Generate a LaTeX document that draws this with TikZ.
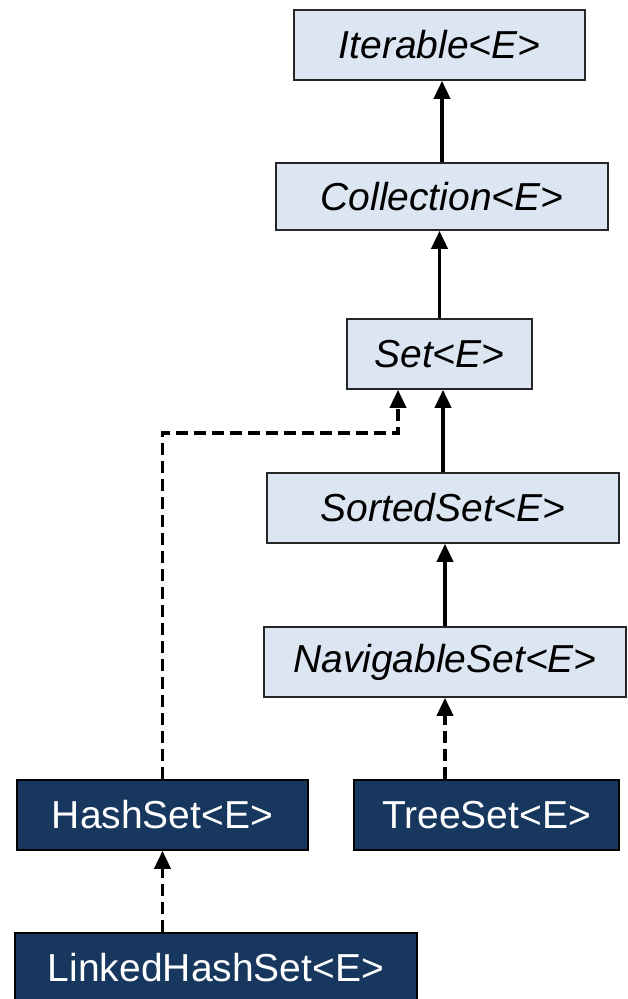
\documentclass[tikz,border=0pt]{standalone}
\usepackage{fontspec}
\setmainfont{Liberation Sans}
\usetikzlibrary{arrows.meta}
\definecolor{ifill}{HTML}{DCE6F2}
\definecolor{cfill}{HTML}{17375E}
\begin{document}
\begin{tikzpicture}[x=1pt,y=-1pt,
  box/.style={draw=black!85,line width=1.6pt,minimum height=70pt,inner sep=0pt,font=\fontsize{39}{42}\selectfont},
  iface/.style={box,fill=ifill,text=black,font=\fontsize{39}{42}\selectfont\itshape},
  cls/.style={box,fill=cfill,text=white,draw=black},
  ext/.style={line width=3.8pt,-{Triangle[length=18pt,width=16pt]}},
  impl/.style={ext,dash pattern=on 12pt off 6pt}]
\useasboundingbox (0,0) rectangle (628,999);
\node[iface,minimum width=291pt] (iter) at (439.5,45) {Iterable<E>};
\node[iface,minimum width=332pt,minimum height=67pt] (coll) at (442,196.5) {Collection<E>};
\node[iface,minimum width=185pt] (set) at (439.5,354) {Set<E>};
\node[iface,minimum width=352pt] (sorted) at (443,508) {SortedSet<E>};
\node[iface,minimum width=362pt] (nav) at (445,662) {NavigableSet<E>};
\node[cls,minimum width=291pt] (hash) at (162.5,815) {HashSet<E>};
\node[cls,minimum width=265pt] (tree) at (486.5,815) {TreeSet<E>};
\node[cls,minimum width=402pt] (linked) at (216,968) {LinkedHashSet<E>};
\coordinate (elbow) at (398,433);
\draw[ext] (coll.north) -- (coll.north |- iter.south);
\draw[ext] (set.north) -- (set.north |- coll.south);
\draw[ext] (sorted.north) -- (sorted.north |- set.south);
\draw[ext] (nav.north) -- (nav.north |- sorted.south);
\draw[impl] (tree.north -| nav.south) -- (nav.south);
\draw[impl] (hash.north) |- (elbow) -- (elbow |- set.south);
\draw[impl] (linked.north -| hash.south) -- (hash.south);
\end{tikzpicture}
\end{document}
